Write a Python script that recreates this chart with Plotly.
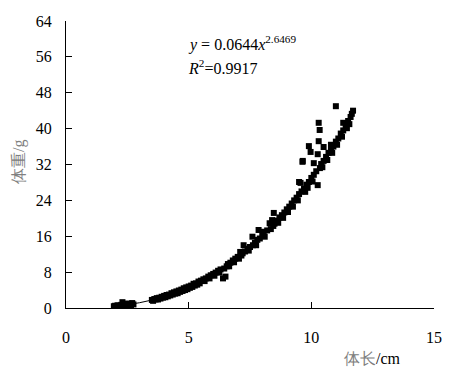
import plotly.graph_objects as go

# Observed body length (cm) and body weight (g)
length_cm = [1.95, 2.0, 2.05, 2.1, 2.15, 2.2, 2.25, 2.3, 2.35, 2.4, 2.45, 2.5, 2.55, 2.6, 2.65, 2.7, 2.75,
             3.5, 3.55, 3.6, 3.65, 3.7, 3.75, 3.8, 3.85, 3.9, 3.95, 4.0, 4.05, 4.1, 4.15, 4.2, 4.25, 4.3, 4.35,
             4.4, 4.45, 4.5, 4.55, 4.6, 4.65, 4.7, 4.75, 4.8, 4.85, 4.9, 4.95, 5.0, 5.05, 5.1, 5.15, 5.2, 5.25,
             5.3, 5.35, 5.4, 5.45, 5.5, 5.6, 5.65, 5.7, 5.8, 5.85, 5.9, 6.0, 6.05, 6.1, 6.2, 6.25, 6.3, 6.4,
             6.45, 6.5, 6.55, 6.6, 6.65, 6.7, 6.8, 6.85, 6.9, 7.0, 7.05, 7.1, 7.15, 7.2, 7.24, 7.3, 7.4, 7.45,
             7.5, 7.6, 7.62, 7.7, 7.75, 7.8, 7.85, 7.9, 8.0, 8.05, 8.1, 8.2, 8.3, 8.35, 8.4, 8.45, 8.47, 8.5,
             8.6, 8.65, 8.7, 8.8, 8.85, 8.9, 9.0, 9.05, 9.1, 9.2, 9.25, 9.3, 9.4, 9.45, 9.5, 9.5, 9.56, 9.6,
             9.64, 9.65, 9.7, 9.75, 9.8, 9.85, 9.9, 9.9, 9.97, 10.0, 10.05, 10.1, 10.1, 10.2, 10.26, 10.26,
             10.3, 10.3, 10.34, 10.35, 10.4, 10.45, 10.5, 10.5, 10.6, 10.65, 10.7, 10.8, 10.8, 10.85, 10.9,
             11.0, 11.0, 11.05, 11.1, 11.2, 11.25, 11.3, 11.3, 11.4, 11.45, 11.5, 11.55, 11.6, 11.65, 11.7]
weight_g = [0.4, 0.5, 0.3, 0.6, 0.5, 0.4, 0.7, 1.3, 0.6, 0.8, 0.5, 1.0, 0.7, 0.9, 0.6, 1.1, 0.8,
            1.8, 1.6, 2.0, 1.9, 2.2, 1.9, 2.3, 2.1, 2.5, 2.3, 2.7, 2.4, 2.9, 2.6, 3.0, 2.8, 3.3, 3.0,
            3.5, 3.2, 3.7, 3.3, 3.9, 3.6, 4.1, 3.8, 4.4, 4.0, 4.6, 4.2, 4.8, 4.5, 5.0, 4.7, 5.4, 5.0,
            5.5, 5.2, 5.9, 5.5, 6.1, 6.4, 6.0, 6.6, 7.0, 6.6, 7.3, 7.6, 7.2, 7.9, 8.3, 7.9, 8.6, 6.6,
            8.8, 7.0, 9.3, 9.8, 9.3, 10.1, 10.6, 10.2, 11.0, 11.4, 11.0, 12.5, 11.7, 12.2, 14.0, 12.6, 13.2, 12.8,
            13.6, 15.9, 14.0, 14.5, 14.0, 15.2, 17.4, 15.5, 16.2, 17.0, 15.9, 17.3, 18.9, 17.6, 19.6, 18.3, 21.2, 18.8,
            19.5, 19.0, 20.2, 20.7, 20.1, 21.3, 22.0, 21.4, 22.6, 23.3, 22.6, 24.0, 24.6, 24.0, 25.4, 28.1, 27.9, 26.0,
            32.6, 32.8, 26.6, 25.9, 27.5, 26.8, 36.1, 28.1, 34.8, 29.0, 28.2, 32.3, 29.7, 30.5, 34.3, 27.4,
            37.2, 41.3, 39.7, 31.2, 32.1, 31.4, 35.9, 32.8, 33.7, 33.0, 34.6, 36.4, 35.3, 34.6, 36.0,
            45.0, 37.1, 36.4, 37.8, 38.9, 38.2, 41.3, 39.6, 40.8, 40.1, 41.7, 41.0, 42.6, 43.3, 44.0]

# Power trendline y = 0.0644 x^2.6469, tabulated
trend_x = [2.0, 2.5, 3.0, 3.5, 4.0, 4.5, 5.0, 5.5, 6.0, 6.5, 7.0, 7.5, 8.0, 8.5, 9.0, 9.5, 10.0, 10.5, 11.0, 11.5, 11.7]
trend_y = [0.403, 0.728, 1.180, 1.774, 2.526, 3.451, 4.560, 5.869, 7.389, 9.13, 11.11, 13.34, 15.82, 18.57,
           21.61, 24.94, 28.55, 32.50, 36.75, 41.33, 43.28]

x_ticks = [0, 5, 10, 15]
y_ticks = [0, 8, 16, 24, 32, 40, 48, 56, 64]

FONT = "Times New Roman, Liberation Serif, serif"

# page body has an 8px margin; figure is sized to fill the rest of the window
OFF = 8
W, H = 451 - OFF, 378 - OFF
L, R, T, B = 66 - OFF, 17, 21 - OFF, 70
pw, ph = W - L - R, H - T - B


def px_to_paper(xw, yw):
    xf, yf = xw - OFF, yw - OFF
    return (xf - L) / pw, (H - yf - B) / ph


fig = go.Figure()
fig.add_trace(go.Scatter(x=trend_x, y=trend_y, mode="lines", line=dict(color="black", width=1, shape="spline"),
                         hoverinfo="skip", showlegend=False))
fig.add_trace(go.Scatter(x=length_cm, y=weight_g, mode="markers",
                         marker=dict(symbol="square", size=6, color="black", line=dict(width=0)),
                         showlegend=False))

xt_x, xt_y = px_to_paper(372, 358)
yt_x, yt_y = px_to_paper(19, 162)

fig.update_layout(
    width=W, height=H,
    margin=dict(l=L, r=R, t=T, b=B, autoexpand=False),
    paper_bgcolor="white", plot_bgcolor="white",
    font=dict(family=FONT, size=16, color="black"),
    xaxis=dict(range=[0, 15], tickvals=x_ticks, ticks="inside", ticklen=6, tickcolor="black",
               showline=True, linecolor="black", linewidth=1, showgrid=False, zeroline=False,
               ticklabelstandoff=15, tickfont=dict(size=16, family=FONT)),
    yaxis=dict(range=[0, 64], tickvals=y_ticks, ticks="inside", ticklen=6, tickcolor="black",
               showline=True, linecolor="black", linewidth=1, showgrid=False, zeroline=False,
               ticklabelstandoff=10, tickfont=dict(size=16, family=FONT)),
    annotations=[
        dict(x=4.9, y=58.9, xref="x", yref="y", xanchor="left", yanchor="middle", showarrow=False,
             text="<i>y</i> = 0.0644<i>x</i><sup>2.6469</sup>", font=dict(size=16, family=FONT)),
        dict(x=4.9, y=53.8, xref="x", yref="y", xanchor="left", yanchor="middle", showarrow=False,
             text="<i>R</i><sup>2</sup>=0.9917", font=dict(size=16, family=FONT)),
        dict(x=xt_x, y=xt_y, xref="paper", yref="paper", xanchor="center", yanchor="middle", showarrow=False,
             text="<span style='color:#808080'>体长</span>/cm", font=dict(size=16, family=FONT)),
        dict(x=yt_x, y=yt_y, xref="paper", yref="paper", xanchor="center", yanchor="middle", showarrow=False,
             textangle=-90, text="体重/g", font=dict(size=16, family=FONT, color="#808080")),
    ],
)

fig.write_html("out.html")
